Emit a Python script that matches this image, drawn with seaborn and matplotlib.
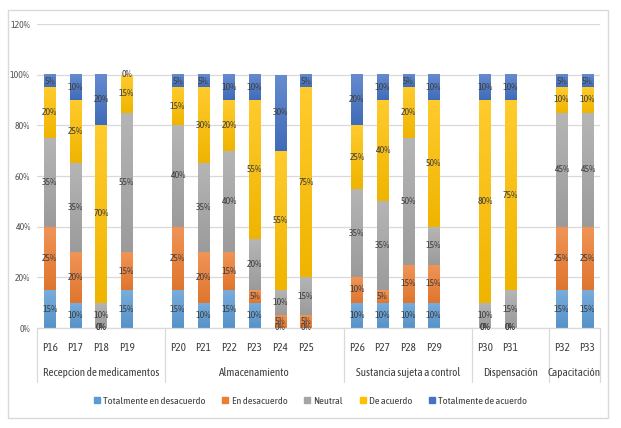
import numpy as np
import pandas as pd
import seaborn as sns
import matplotlib.pyplot as plt
from matplotlib.colors import LinearSegmentedColormap, to_rgb
from matplotlib.lines import Line2D
from matplotlib.patches import Rectangle
from matplotlib.ticker import FuncFormatter
import matplotlib.transforms as mtransforms

# data (percent of respondents)
questions = ['P16', 'P17', 'P18', 'P19', 'P20', 'P21', 'P22', 'P23', 'P24', 'P25',
             'P26', 'P27', 'P28', 'P29', 'P30', 'P31', 'P32', 'P33']
groups = ['Recepcion de medicamentos', 'Almacenamiento', 'Sustancia sujeta a control',
          'Dispensación', 'Capacitación']
group_sizes = [4, 6, 4, 2, 2]
levels = ['Totalmente en desacuerdo', 'En desacuerdo', 'Neutral', 'De acuerdo',
          'Totalmente de acuerdo']
tot_desacuerdo = [15, 10, 0, 15, 15, 10, 15, 10, 0, 0, 10, 10, 10, 10, 0, 0, 15, 15]
en_desacuerdo = [25, 20, 0, 15, 25, 20, 15, 5, 5, 5, 10, 5, 15, 15, 0, 0, 25, 25]
neutral = [35, 35, 10, 55, 40, 35, 40, 20, 10, 15, 35, 35, 50, 15, 10, 15, 45, 45]
de_acuerdo = [20, 25, 70, 15, 15, 30, 20, 55, 55, 75, 25, 40, 20, 50, 80, 75, 10, 10]
tot_acuerdo = [5, 10, 20, 0, 5, 5, 10, 10, 30, 5, 20, 10, 5, 10, 10, 10, 5, 5]

colors = ['#5B9BD5', '#ED7D31', '#A5A5A5', '#FFC000', '#4472C4']
series = [tot_desacuerdo, en_desacuerdo, neutral, de_acuerdo, tot_acuerdo]

df = pd.DataFrame({'question': questions})
for name, vals in zip(levels, series):
    df[name] = [v / 100 for v in vals]

# category order with one empty slot after each group (like the excel chart)
order = []
for g, n in enumerate(group_sizes):
    start = sum(group_sizes[:g])
    order += questions[start:start + n]
    if g < len(group_sizes) - 1:
        order.append('_gap%d' % g)

sns.set_theme(style='white')
# narrow font, closest to the calibri of the original
plt.rcParams['font.family'] = ['Asap Condensed', 'DejaVu Sans']

fig = plt.figure(figsize=(6.21, 4.28), dpi=100)
ax = fig.add_axes([37 / 621, 100 / 428, 563 / 621, 304 / 428])

# stacked bars by drawing cumulative totals from the top down
cum = df[levels].cumsum(axis=1)
for i in range(len(levels) - 1, -1, -1):
    sns.barplot(x=df['question'], y=cum[levels[i]], order=order, color=colors[i],
                width=0.43, linewidth=0, saturation=1, ax=ax)


def shade(c, f):
    r = np.array(to_rgb(c))
    return tuple(r + (1 - r) * f) if f > 0 else tuple(r * (1 + f))


# excel style gradient on each segment (light on top, darker at the bottom)
grad = np.linspace(0, 1, 64).reshape(-1, 1)
bar_w = ax.patches[0].get_width()
for i, lev in enumerate(levels):
    cmap = LinearSegmentedColormap.from_list('g%d' % i, [shade(colors[i], -0.06),
                                                         shade(colors[i], 0.18)])
    for q, lo, hi in zip(df['question'], cum[lev] - df[lev], cum[lev]):
        if hi - lo <= 0:
            continue
        xi = order.index(q)
        ax.imshow(grad, cmap=cmap, origin='lower', aspect='auto', interpolation='bilinear',
                  extent=(xi - bar_w / 2, xi + bar_w / 2, lo, hi), zorder=2)

# data labels
for _, row in df.iterrows():
    xi = order.index(row['question'])
    base = 0
    for lev in levels:
        v = row[lev]
        ax.text(xi, base + v / 2, '%d%%' % round(v * 100), ha='center', va='center',
                fontsize=7, color='#404040', zorder=3)
        base += v

ax.set_ylim(0, 1.2)
ax.set_xlim(-0.5, len(order) - 0.5)
ax.set_yticks([0, 0.2, 0.4, 0.6, 0.8, 1.0, 1.2])
ax.yaxis.set_major_formatter(FuncFormatter(lambda y, _: '%d%%' % round(y * 100)))
ax.yaxis.grid(True, color='#D9D9D9', linewidth=0.9)
ax.set_axisbelow(True)
ax.set_xticks(range(len(order)))
ax.set_xticklabels(['' if o.startswith('_gap') else o for o in order])
ax.tick_params(axis='x', length=0, pad=10, labelsize=8, colors='#404040')
ax.tick_params(axis='y', length=0, pad=5, labelsize=7, colors='#595959')
ax.set_xlabel('')
ax.set_ylabel('')
for s in ['left', 'right', 'top']:
    ax.spines[s].set_visible(False)
ax.spines['bottom'].set_color('#D9D9D9')
ax.spines['bottom'].set_linewidth(0.9)

# group labels and separators under the axis
trans = mtransforms.blended_transform_factory(ax.transData, ax.transAxes)
edges = [-0.5]
pos = 0
for g, n in enumerate(group_sizes):
    span = n + (1 if g < len(group_sizes) - 1 else 0)
    lo, hi = pos - 0.5, pos + span - 0.5
    ax.text((lo + hi) / 2, -0.148, groups[g], transform=trans, ha='center', va='center',
            fontsize=8, color='#404040')
    edges.append(hi)
    pos += span
for e in edges:
    ax.plot([e, e], [0, -0.178], transform=trans, color='#D9D9D9', linewidth=0.9,
            clip_on=False)

handles = [Line2D([], [], marker='s', linestyle='', markersize=4.5, color=c) for c in colors]
fig.legend(handles, levels, loc='center', bbox_to_anchor=(0.5, 27 / 428), ncol=5,
           frameon=False, fontsize=7.5, handlelength=0.6, handletextpad=0.3,
           columnspacing=1.6, labelcolor='#404040')

fig.patches.append(Rectangle((8 / 621, 10 / 428), 600 / 621, 408 / 428,
                             transform=fig.transFigure, fill=False,
                             edgecolor='#D9D9D9', linewidth=1))

fig.savefig('out.png', dpi=100)
